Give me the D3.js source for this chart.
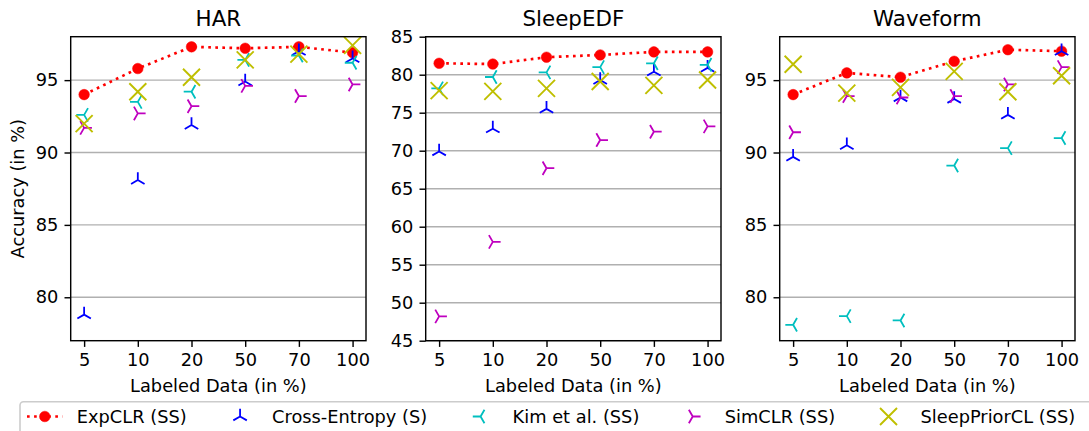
<!DOCTYPE html>
<html><head><meta charset="utf-8">
<script src="https://cdn.jsdelivr.net/npm/d3@7"></script>
<style>
body{margin:0;background:#fff}
svg{display:block}
text{font-family:"DejaVu Sans",sans-serif;fill:#000}
</style>
</head><body>
<svg id="chart" width="1089" height="431"></svg>
<script>
// ---------------- data ----------------
const labeledPct = ["5", "10", "20", "50", "70", "100"];
const datasets = ["HAR", "SleepEDF", "Waveform"];
const methods = ["ExpCLR (SS)", "Cross-Entropy (S)", "Kim et al. (SS)", "SimCLR (SS)", "SleepPriorCL (SS)"];

const harExpCLR        = [94.0, 95.8, 97.3, 97.2, 97.3, 96.9];
const harCrossEntropy  = [78.8, 88.1, 91.9, 94.9, 97.0, 96.5];
const harKim           = [92.6, 93.5, 94.2, 96.4, 96.7, 96.2];
const harSimCLR        = [91.7, 92.7, 93.2, 94.6, 93.9, 94.7];
const harSleepPriorCL  = [92.0, 94.2, 95.2, 96.4, 96.8, 97.4];

const sleepExpCLR       = [81.5, 81.4, 82.3, 82.6, 83.0, 83.0];
const sleepCrossEntropy = [69.9, 72.9, 75.5, 79.3, 80.4, 80.9];
const sleepKim          = [78.2, 79.7, 80.3, 81.0, 81.5, 81.3];
const sleepSimCLR       = [48.2, 58.0, 67.7, 71.4, 72.5, 73.2];
const sleepSleepPriorCL = [77.9, 77.8, 78.2, 79.1, 78.6, 79.3];

const waveExpCLR        = [94.0, 95.5, 95.2, 96.3, 97.1, 97.0];
const waveCrossEntropy  = [89.7, 90.5, 93.8, 93.7, 92.6, 97.0];
const waveKim           = [78.1, 78.7, 78.4, 89.1, 90.3, 91.0];
const waveSimCLR        = [91.4, 93.9, 93.8, 93.9, 94.7, 95.9];
const waveSleepPriorCL  = [96.1, 94.1, 94.5, 95.6, 94.2, 95.3];

const yTicksHAR = [80, 85, 90, 95];
const yTicksSleep = [45, 50, 55, 60, 65, 70, 75, 80, 85];
const yTicksWave = [80, 85, 90, 95];
const yDomainHAR = [77, 98];
const yDomainSleep = [45, 85];
const yDomainWave = [77, 98];

const xLabel = "Labeled Data (in %)";
const yLabel = "Accuracy (in %)";

// ---------------- layout / style ----------------
const FS = 17.8;              // 10pt
const TITLE_FS = 21.4;        // 12pt
const LW = 1.42;              // 0.8pt
const TICK = 6.2;
const colors = ["#ff0000", "#0000ff", "#00bfbf", "#bf00bf", "#bfbf00"];
const markerKinds = ["circle", "tri_up", "tri_left", "tri_right", "x"];

const panels = [
  {title: datasets[0], series: [harExpCLR, harCrossEntropy, harKim, harSimCLR, harSleepPriorCL], domain: yDomainHAR, ticks: yTicksHAR, left: 70.7, ylabel: true},
  {title: datasets[1], series: [sleepExpCLR, sleepCrossEntropy, sleepKim, sleepSimCLR, sleepSleepPriorCL], domain: yDomainSleep, ticks: yTicksSleep, left: 425.7, ylabel: false},
  {title: datasets[2], series: [waveExpCLR, waveCrossEntropy, waveKim, waveSimCLR, waveSleepPriorCL], domain: yDomainWave, ticks: yTicksWave, left: 779.7, ylabel: false}
];
const pW = 295.3, pTop = 36.7, pH = 304;

const svg = d3.select("#chart");

function markerPath(kind) {
  const r = 7.8, s = 8.5;
  const c = 0.866 * r, h = 0.5 * r;
  switch (kind) {
    case "tri_up":    return `M0,0L0,${-r}M0,0L${-c},${h}M0,0L${c},${h}`;
    case "tri_left":  return `M0,0L${-r},0M0,0L${h},${-c}M0,0L${h},${c}`;
    case "tri_right": return `M0,0L${r},0M0,0L${-h},${-c}M0,0L${-h},${c}`;
    case "x":         return `M${-s},${-s}L${s},${s}M${-s},${s}L${s},${-s}`;
  }
  return "";
}

function drawMarker(g, kind, color, x, y) {
  if (kind === "circle") {
    g.append("circle").attr("cx", x).attr("cy", y).attr("r", 5.3)
      .attr("fill", color).attr("stroke", color).attr("stroke-width", 0.5);
  } else {
    g.append("path").attr("transform", `translate(${x},${y})`)
      .attr("d", markerPath(kind)).attr("fill", "none")
      .attr("stroke", color).attr("stroke-width", kind === "x" ? 1.9 : 1.8);
  }
}

panels.forEach((p, pi) => {
  const g = svg.append("g").attr("transform", `translate(${p.left},${pTop})`);
  const x = d3.scaleLinear().domain([-0.25, labeledPct.length - 1 + 0.25]).range([0, pW]);
  const y = d3.scaleLinear().domain(p.domain).range([pH, 0]);

  const clipId = "clip" + pi;
  g.append("clipPath").attr("id", clipId).append("rect")
    .attr("x", 0).attr("y", 0).attr("width", pW).attr("height", pH);

  // grid
  g.append("g").selectAll("line").data(p.ticks).join("line")
    .attr("x1", 0).attr("x2", pW)
    .attr("y1", d => y(d)).attr("y2", d => y(d))
    .attr("stroke", "#b0b0b0").attr("stroke-width", LW);

  // data
  const dg = g.append("g").attr("clip-path", `url(#${clipId})`);
  p.series.forEach((vals, si) => {
    const pts = vals.map((v, i) => [x(i), y(v)]);
    if (si === 0) {
      dg.append("path").attr("d", d3.line()(pts)).attr("fill", "none")
        .attr("stroke", colors[0]).attr("stroke-width", 2.67)
        .attr("stroke-dasharray", "2.67,4.4");
    }
    pts.forEach(pt => drawMarker(dg, markerKinds[si], colors[si], pt[0], pt[1]));
  });

  // axes
  const xAxis = d3.axisBottom(x).tickValues(d3.range(labeledPct.length))
    .tickFormat(i => labeledPct[i]).tickSize(TICK).tickPadding(6.8);
  const yAxis = d3.axisLeft(y).tickValues(p.ticks).tickFormat(d3.format("d"))
    .tickSize(TICK).tickPadding(6.2);

  const gx = g.append("g").attr("transform", `translate(0,${pH})`).call(xAxis);
  const gy = g.append("g").call(yAxis);
  [gx, gy].forEach(a => {
    a.select(".domain").remove();
    a.selectAll("line").attr("stroke", "#000").attr("stroke-width", LW);
    a.selectAll("text").attr("font-size", FS).attr("font-family", "DejaVu Sans").attr("fill", "#000");
  });

  // frame
  g.append("rect").attr("x", 0).attr("y", 0).attr("width", pW).attr("height", pH)
    .attr("fill", "none").attr("stroke", "#000").attr("stroke-width", LW);

  // title
  g.append("text").attr("x", pW / 2).attr("y", -10.7).attr("text-anchor", "middle")
    .attr("font-size", TITLE_FS).text(p.title);

  // x label
  g.append("text").attr("x", pW / 2).attr("y", 391.7 - pTop).attr("text-anchor", "middle")
    .attr("font-size", FS).text(xLabel);

  if (p.ylabel) {
    svg.append("text").attr("transform", `translate(24,${pTop + pH / 2}) rotate(-90)`)
      .attr("text-anchor", "middle").attr("font-size", FS).text(yLabel);
  }
});

// ---------------- legend ----------------
const lg = svg.append("g");
const frame = lg.append("rect").attr("x", 20).attr("y", 401.7).attr("width", 1100).attr("height", 60)
  .attr("rx", 3.5).attr("fill", "#fff").attr("fill-opacity", 0.8)
  .attr("stroke", "#cccccc").attr("stroke-width", 1.6);

let cx = 27;
const handleLen = 2 * FS, textPad = 0.8 * FS, colSpace = 2 * FS;
const rowY = 416.5;
methods.forEach((m, i) => {
  const midX = cx + handleLen / 2;
  if (i === 0) {
    lg.append("line").attr("x1", cx).attr("x2", cx + handleLen).attr("y1", rowY).attr("y2", rowY)
      .attr("stroke", colors[0]).attr("stroke-width", 2.67).attr("stroke-dasharray", "2.67,4.4");
  }
  drawMarker(lg, markerKinds[i], colors[i], midX, rowY);
  const t = lg.append("text").attr("x", cx + handleLen + textPad).attr("y", rowY)
    .attr("dy", "0.35em").attr("font-size", FS).text(m);
  const w = t.node().getComputedTextLength();
  cx = cx + handleLen + textPad + w + colSpace;
});
</script>
</body></html>
